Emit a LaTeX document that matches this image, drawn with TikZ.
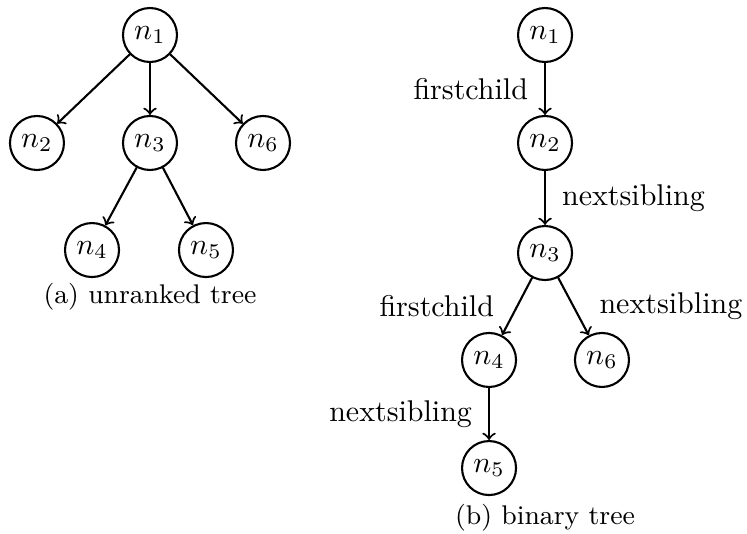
\documentclass[tikz,border=0pt]{standalone}
\usepackage{amsmath}
\usepackage{tikz}
\usetikzlibrary{arrows}

\begin{document}
\begin{tikzpicture}[line cap=round,line join=round,>=to,x=1.0cm,y=1.0cm,
  tnode/.style={draw,circle,line width=0.7pt,minimum size=18pt,inner sep=0pt},
  tedge/.style={->,line width=0.7pt}]
\useasboundingbox (0.,0.) rectangle (8.751,6.244);
% (a) unranked tree
\node[tnode] (a1) at (1.757,5.834) {$n_1$};
\node[tnode] (a2) at (0.433,4.569) {$n_2$};
\node[tnode] (a3) at (1.757,4.569) {$n_3$};
\node[tnode] (a6) at (3.081,4.569) {$n_6$};
\node[tnode] (a4) at (1.078,3.315) {$n_4$};
\node[tnode] (a5) at (2.413,3.315) {$n_5$};
\draw[tedge] (a1)-- (a2);
\draw[tedge] (a1)-- (a3);
\draw[tedge] (a1)-- (a6);
\draw[tedge] (a3)-- (a4);
\draw[tedge] (a3)-- (a5);
\node (capa) at (1.757,2.765) {\small (a) unranked tree};
% (b) binary tree
\node[tnode] (b1) at (6.385,5.834) {$n_1$};
\node[tnode] (b2) at (6.385,4.569) {$n_2$};
\node[tnode] (b3) at (6.385,3.280) {$n_3$};
\node[tnode] (b4) at (5.729,2.027) {$n_4$};
\node[tnode] (b6) at (7.052,2.027) {$n_6$};
\node[tnode] (b5) at (5.729,0.761) {$n_5$};
\draw[tedge] (b1)-- node[left=2pt] {firstchild} (b2);
\draw[tedge] (b2)-- node[right=2pt] {nextsibling} (b3);
\draw[tedge] (b3)-- node[left=4pt] {firstchild} (b4);
\draw[tedge] (b3)-- node[right=5pt] {nextsibling} (b6);
\draw[tedge] (b4)-- node[left=2pt] {nextsibling} (b5);
\node (capb) at (6.385,0.176) {\small (b) binary tree};
\end{tikzpicture}
\end{document}
